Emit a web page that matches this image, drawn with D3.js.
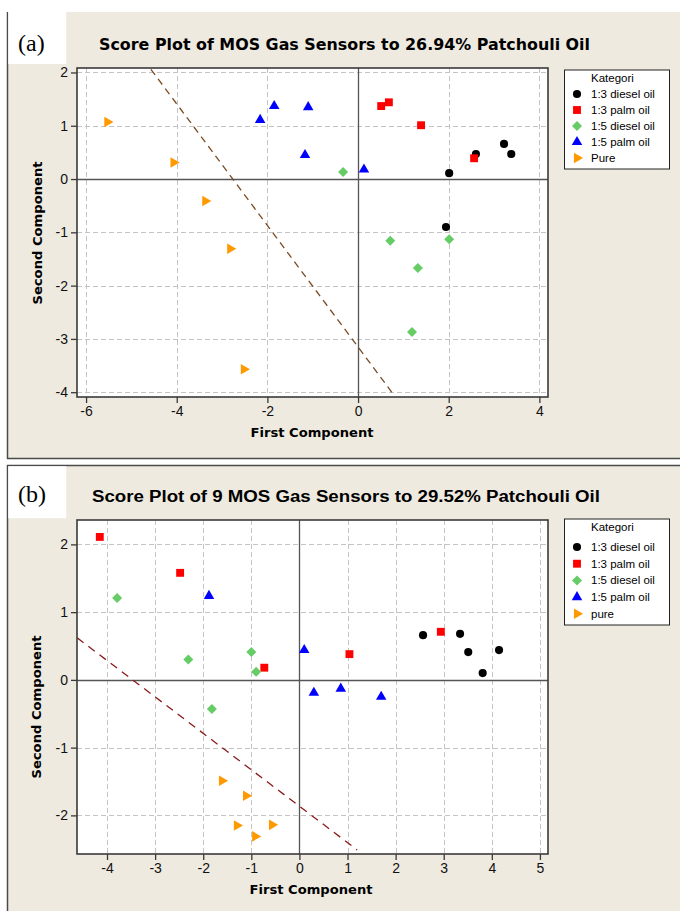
<!DOCTYPE html>
<html><head><meta charset="utf-8">
<script src="https://cdn.jsdelivr.net/npm/d3@7"></script>
<style>html,body{margin:0;padding:0;background:#fff;}svg{display:block;}</style>
</head><body>
<script>
// ---------- DATA ----------
const categoriesA = ["1:3 diesel oil","1:3 palm oil","1:5 diesel oil","1:5 palm oil","Pure"];
const categoriesB = ["1:3 diesel oil","1:3 palm oil","1:5 diesel oil","1:5 palm oil","pure"];

// Panel (a): [First Component, Second Component]
const a_diesel13 = [[2.01,0.11],[2.60,0.47],[3.22,0.66],[3.38,0.47],[1.94,-0.90]];
const a_palm13   = [[0.51,1.37],[0.68,1.44],[1.39,1.01],[2.56,0.39]];
const a_diesel15 = [[-0.33,0.13],[0.71,-1.16],[2.01,-1.13],[1.32,-1.67],[1.19,-2.87]];
const a_palm15   = [[-2.16,1.11],[-1.85,1.37],[-1.10,1.35],[-1.17,0.45],[0.13,0.18]];
const a_pure     = [[-5.53,1.07],[-4.07,0.31],[-3.37,-0.41],[-2.82,-1.31],[-2.52,-3.57]];
const a_line     = [[-4.57,2.06],[0.77,-4.03]];
const a_xTicks = [-6,-4,-2,0,2,4];
const a_yTicks = [-4,-3,-2,-1,0,1,2];
const a_title = "Score Plot of MOS Gas Sensors to 26.94% Patchouli Oil";

// Panel (b)
const b_diesel13 = [[2.57,0.66],[3.34,0.68],[3.51,0.41],[4.15,0.44],[3.81,0.10]];
const b_palm13   = [[-4.15,2.11],[-2.48,1.58],[-0.73,0.18],[1.04,0.38],[2.94,0.71]];
const b_diesel15 = [[-3.79,1.21],[-2.31,0.30],[-1.00,0.41],[-0.90,0.12],[-1.82,-0.43]];
const b_palm15   = [[-1.88,1.24],[0.10,0.44],[0.30,-0.19],[0.86,-0.13],[1.70,-0.25]];
const b_pure     = [[-1.61,-1.49],[-1.11,-1.71],[-1.30,-2.15],[-0.57,-2.14],[-0.92,-2.31]];
const b_line     = [[-4.62,0.62],[1.20,-2.51]];
const b_xTicks = [-4,-3,-2,-1,0,1,2,3,4,5];
const b_yTicks = [-2,-1,0,1,2];
const b_title = "Score Plot of 9 MOS Gas Sensors to 29.52% Patchouli Oil";

// ---------- STYLE ----------
const colors = ["#000000","#ff0000","#66cc66","#0000ff","#ff9900"];
const shapes = ["circle","square","diamond","triangle","right"];
const BG = "#eeeae0";
const W = 680, H = 911;

const svg = d3.select("body").append("svg").attr("width", W).attr("height", H);
svg.append("rect").attr("width", W).attr("height", H).attr("fill", "#fff");

function symbolPath(shape) {
  if (shape === "circle") return d3.symbol(d3.symbolCircle, 52)();
  if (shape === "square") return d3.symbol(d3.symbolSquare, 62)();
  if (shape === "diamond") return d3.symbol(d3.symbolSquare, 50)();
  return d3.symbol(d3.symbolTriangle, 48)();
}
function symbolRot(shape) {
  if (shape === "diamond") return 45;
  if (shape === "right") return 90;
  return 0;
}

function drawPanel(cfg) {
  const g = svg.append("g");
  // frame
  g.append("rect").attr("x", cfg.fx).attr("y", cfg.fy).attr("width", W - cfg.fx).attr("height", cfg.fh).attr("fill", BG);
  const fr = g.append("g").attr("stroke", "#4a4a4a").attr("stroke-width", 1.5);
  fr.append("line").attr("x1", cfg.fx + 0.5).attr("x2", cfg.fx + 0.5).attr("y1", cfg.fy).attr("y2", cfg.fy + cfg.fh);
  if (cfg.topLine) fr.append("line").attr("x1", cfg.fx).attr("x2", W).attr("y1", cfg.fy + 0.5).attr("y2", cfg.fy + 0.5);
  fr.append("line").attr("x1", cfg.fx).attr("x2", W).attr("y1", cfg.fy + cfg.fh - 0.5).attr("y2", cfg.fy + cfg.fh - 0.5);
  // label box
  g.append("rect").attr("x", cfg.fx + 1.25).attr("y", cfg.fy + (cfg.topLine ? 1.25 : 0)).attr("width", 58).attr("height", cfg.labH).attr("fill", "#fff");
  g.append("text").attr("x", 18).attr("y", cfg.labY).text(cfg.label)
    .attr("font-family", "Liberation Serif, serif").attr("font-size", 24).attr("fill", "#000");
  // title
  g.append("text").attr("x", cfg.titleX).attr("y", cfg.titleY).text(cfg.title)
    .attr("font-family", cfg.titleFont).attr("font-weight", "bold").attr("font-size", cfg.titleSize)
    .attr("textLength", cfg.titleLen).attr("lengthAdjust", "spacingAndGlyphs").attr("fill", "#000");

  const x = d3.scaleLinear().domain(cfg.xDom).range([cfg.px0, cfg.px1]);
  const y = d3.scaleLinear().domain(cfg.yDom).range([cfg.py1, cfg.py0]);

  // plot background
  g.append("rect").attr("x", cfg.px0).attr("y", cfg.py0).attr("width", cfg.px1 - cfg.px0).attr("height", cfg.py1 - cfg.py0)
    .attr("fill", "#fff");

  // grid
  const grid = g.append("g").attr("stroke", "#c4c4c4").attr("stroke-width", 1).attr("stroke-dasharray", "5,3");
  grid.selectAll("line.v").data(cfg.xTicks.filter(d => d !== 0)).join("line")
    .attr("x1", d => Math.round(x(d)) + 0.5).attr("x2", d => Math.round(x(d)) + 0.5)
    .attr("y1", cfg.py0).attr("y2", cfg.py1);
  grid.selectAll("line.h").data(cfg.yTicks.filter(d => d !== 0)).join("line")
    .attr("y1", d => Math.round(y(d)) + 0.5).attr("y2", d => Math.round(y(d)) + 0.5)
    .attr("x1", cfg.px0).attr("x2", cfg.px1);
  // zero lines
  g.append("line").attr("x1", Math.round(x(0)) + 0.5).attr("x2", Math.round(x(0)) + 0.5).attr("y1", cfg.py0).attr("y2", cfg.py1)
    .attr("stroke", "#555").attr("stroke-width", 1.3);
  g.append("line").attr("y1", Math.round(y(0)) + 0.5).attr("y2", Math.round(y(0)) + 0.5).attr("x1", cfg.px0).attr("x2", cfg.px1)
    .attr("stroke", "#555").attr("stroke-width", 1.3);

  // dashed separation line (clipped)
  const clipId = "clip" + cfg.label.replace(/\W/g, "");
  g.append("clipPath").attr("id", clipId).append("rect")
    .attr("x", cfg.px0).attr("y", cfg.py0).attr("width", cfg.px1 - cfg.px0).attr("height", cfg.py1 - cfg.py0);
  g.append("path").datum(cfg.line).attr("clip-path", `url(#${clipId})`)
    .attr("d", d3.line().x(d => x(d[0])).y(d => y(d[1])))
    .attr("fill", "none").attr("stroke", cfg.lineColor).attr("stroke-width", 1.3).attr("stroke-dasharray", cfg.lineDash);

  // frame of plot
  g.append("rect").attr("x", cfg.px0).attr("y", cfg.py0).attr("width", cfg.px1 - cfg.px0).attr("height", cfg.py1 - cfg.py0)
    .attr("fill", "none").attr("stroke", "#3a3a3a").attr("stroke-width", 1.6);

  // axes
  const xa = g.append("g").attr("transform", `translate(0,${cfg.py1})`)
    .call(d3.axisBottom(x).tickValues(cfg.xTicks).tickSize(6).tickPadding(3).tickFormat(d3.format("d")));
  const ya = g.append("g").attr("transform", `translate(${cfg.px0},0)`)
    .call(d3.axisLeft(y).tickValues(cfg.yTicks).tickSize(6).tickPadding(3).tickFormat(d3.format("d")));
  [xa, ya].forEach(a => {
    a.select(".domain").remove();
    a.selectAll(".tick line").attr("stroke", "#3a3a3a").attr("stroke-width", 1.3);
    a.selectAll(".tick text").attr("font-family", "Liberation Sans, Arial, sans-serif").attr("font-size", 14).attr("fill", "#111");
  });
  xa.selectAll(".tick text").text(d => d < 0 ? "-" + Math.abs(d) : d);
  ya.selectAll(".tick text").text(d => d < 0 ? "-" + Math.abs(d) : d);

  // axis titles
  g.append("text").attr("x", cfg.xTitleX).attr("y", cfg.xTitleY).attr("text-anchor", "middle").text("First Component")
    .attr("font-family", "DejaVu Sans, sans-serif").attr("font-weight", "bold").attr("font-size", 13)
    .attr("textLength", 123).attr("lengthAdjust", "spacingAndGlyphs");
  g.append("text").attr("transform", `translate(${cfg.yTitleX},${cfg.yTitleY}) rotate(-90)`).attr("text-anchor", "middle")
    .text("Second Component")
    .attr("font-family", "DejaVu Sans, sans-serif").attr("font-weight", "bold").attr("font-size", 13)
    .attr("textLength", 143).attr("lengthAdjust", "spacingAndGlyphs");

  // points
  cfg.series.forEach((s, i) => {
    g.append("g").selectAll("path").data(s).join("path")
      .attr("d", symbolPath(shapes[i]))
      .attr("transform", d => `translate(${x(d[0])},${y(d[1])}) rotate(${symbolRot(shapes[i])})`)
      .attr("fill", colors[i]);
  });

  // legend
  const lg = g.append("g");
  lg.append("rect").attr("x", 564.5).attr("y", cfg.legY).attr("width", 105).attr("height", cfg.legH)
    .attr("fill", "#fff").attr("stroke", "#222").attr("stroke-width", 1);
  lg.append("text").attr("x", 591).attr("y", cfg.legY + 12).text("Kategori")
    .attr("font-family", "Liberation Sans, Arial, sans-serif").attr("font-size", 11.5);
  cfg.cats.forEach((c, i) => {
    const cy = cfg.legY + cfg.legFirst + i * cfg.legStep;
    lg.append("path").attr("d", symbolPath(shapes[i]))
      .attr("transform", `translate(577,${cy}) rotate(${symbolRot(shapes[i])})`).attr("fill", colors[i]);
    lg.append("text").attr("x", 591).attr("y", cy + 4).text(c)
      .attr("font-family", "Liberation Sans, Arial, sans-serif").attr("font-size", 11.5);
  });
}

drawPanel({
  label: "(a)", fx: 7, fy: 12, fh: 447, topLine: false, labH: 52, labY: 51,
  title: a_title, titleX: 99, titleY: 50, titleLen: 491, titleSize: 15, titleFont: "DejaVu Sans, sans-serif",
  xDom: [-6.2, 4.19], yDom: [-4.09, 2.084], px0: 77, px1: 548, py0: 68, py1: 397,
  xTicks: a_xTicks, yTicks: a_yTicks, line: a_line, lineColor: "#7a4a22", lineDash: "7,5",
  xTitleX: 312, xTitleY: 437, yTitleX: 42, yTitleY: 233,
  series: [a_diesel13, a_palm13, a_diesel15, a_palm15, a_pure], cats: categoriesA,
  legY: 70, legH: 99, legFirst: 24, legStep: 16
});

drawPanel({
  label: "(b)", fx: 7, fy: 465, fh: 448, topLine: true, labH: 52, labY: 502,
  title: b_title, titleX: 92, titleY: 502, titleLen: 508, titleSize: 16, titleFont: "Liberation Sans, Arial, sans-serif",
  xDom: [-4.624, 5.168], yDom: [-2.57, 2.36], px0: 77, px1: 548, py0: 520, py1: 854,
  xTicks: b_xTicks, yTicks: b_yTicks, line: b_line, lineColor: "#8b1a1a", lineDash: "8,6",
  xTitleX: 311, xTitleY: 894, yTitleX: 41, yTitleY: 707,
  series: [b_diesel13, b_palm13, b_diesel15, b_palm15, b_pure], cats: categoriesB,
  legY: 519, legH: 106, legFirst: 28, legStep: 16.7
});
</script>
</body></html>
